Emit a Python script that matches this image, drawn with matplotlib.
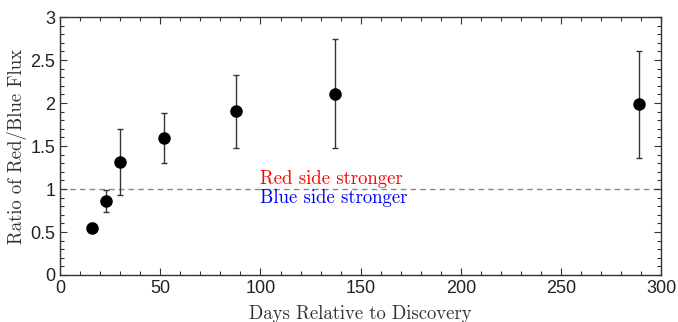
import matplotlib
matplotlib.use("Agg")
import matplotlib.pyplot as plt
from matplotlib.ticker import MultipleLocator

days = [16, 23, 30, 52, 88, 137, 289]
ratio = [0.55, 0.86, 1.32, 1.59, 1.91, 2.11, 1.99]
err_low = [0.50, 0.73, 0.93, 1.30, 1.48, 1.48, 1.36]
err_high = [0.60, 0.99, 1.70, 1.88, 2.33, 2.75, 2.61]

yerr = [[r - lo for r, lo in zip(ratio, err_low)],
        [hi - r for r, hi in zip(ratio, err_high)]]

fig = plt.figure(figsize=(6.78, 3.22), dpi=100)
ax = fig.add_axes([0.0885, 0.146, 0.887, 0.801])

ax.axhline(1.0, color="#888888", linestyle=(0, (4, 3)), linewidth=1.0, zorder=1)
ax.errorbar(days, ratio, yerr=yerr, fmt="o", color="black", ecolor="#333333",
            elinewidth=1.0, capsize=2, capthick=1.0, markersize=8, zorder=3)

serif = dict(family="cmr10")
ax.text(100, 1.115, "Red side stronger", color="red", fontsize=13.5,
        ha="left", va="center", **serif)
ax.text(100, 0.895, "Blue side stronger", color="blue", fontsize=13.5,
        ha="left", va="center", **serif)

ax.set_xlim(0, 300)
ax.set_ylim(0, 3)
ax.xaxis.set_major_locator(MultipleLocator(50))
ax.xaxis.set_minor_locator(MultipleLocator(10))
ax.yaxis.set_minor_locator(MultipleLocator(0.1))
ax.set_yticks([0, 0.5, 1, 1.5, 2, 2.5, 3])
ax.set_yticklabels(["0", "0.5", "1", "1.5", "2", "2.5", "3"])

ax.tick_params(which="both", direction="in", top=True, right=True,
               colors="#333333", labelcolor="#222222")
ax.tick_params(which="major", length=5, width=0.8, labelsize=13)
ax.tick_params(which="minor", length=3, width=0.8)
for lbl in ax.get_xticklabels() + ax.get_yticklabels():
    lbl.set_family("Liberation Sans")
for s in ax.spines.values():
    s.set_color("#333333")
    s.set_linewidth(1.0)

ax.set_xlabel("Days Relative to Discovery", fontsize=13.5, color="#333333",
              labelpad=6, **serif)
ax.set_ylabel("Ratio of Red/Blue Flux", fontsize=13.5, color="#333333",
              labelpad=2, **serif)

fig.savefig("out.png", dpi=100)
